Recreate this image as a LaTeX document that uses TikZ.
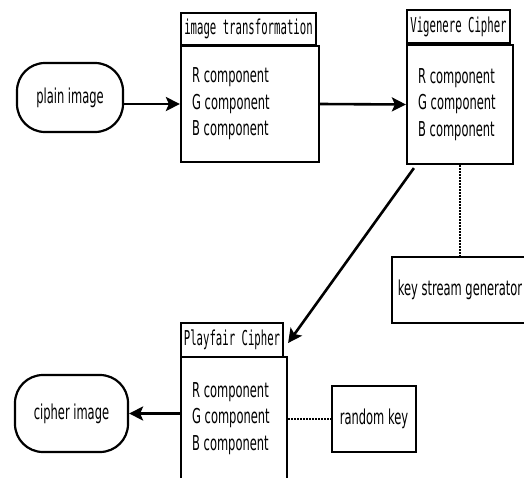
\documentclass[tikz,border=0pt]{standalone}
\usepackage{fontspec}
\setmainfont{DejaVu Sans}
\setmonofont{DejaVu Sans Mono}
\usetikzlibrary{arrows.meta,calc}

% narrow text helpers
\newcommand{\nb}[1]{\scalebox{0.56}[1]{#1}}
\newcommand{\nt}[1]{\scalebox{0.52}[1]{\fontsize{20.5}{24}\selectfont\ttfamily #1}}

\begin{document}
\begin{tikzpicture}[x=1pt,y=-1pt,
  every node/.style={font=\fontsize{20.5}{26.5}\selectfont},
  term/.style={draw,line width=2.2pt,rounded corners=28pt,inner sep=0pt},
  titlebox/.style={draw,line width=2.2pt,inner sep=0pt},
  bodybox/.style={draw,line width=2.2pt,align=left,inner xsep=11pt,inner ysep=0pt},
  plainbox/.style={draw,line width=2.2pt,inner sep=0pt},
  flow/.style={line width=2.6pt,-{Stealth[length=14pt,width=14pt,inset=3pt]}},
  keylink/.style={line width=1.8pt,dash pattern=on 1.6pt off 1.4pt}]
\useasboundingbox (0,0) rectangle (524,477);
\begin{scope}
\clip (0,0) rectangle (524,477);

% input and output terminals
\node[term,minimum width=106pt,minimum height=69pt] (plain) at (70,97.5) {\nb{plain image}};
\node[term,minimum width=113pt,minimum height=77pt] (cipher) at (71.5,413.5) {\nb{cipher image}};

% image transformation stage
\node[titlebox,minimum width=135pt,minimum height=32pt] (t1title) at (248.5,29) {\nt{image transformation}};
\node[bodybox,text width=116pt,minimum height=116pt] (t1body) at (250,104)
  {\nb{R component}\\\nb{G component}\\\nb{B component}};

% Vigenere stage
\node[titlebox,minimum width=103pt,minimum height=33pt] (vtitle) at (458.5,26.5) {\nt{Vigenere Cipher}};
\node[bodybox,text width=84pt,minimum height=119pt] (vbody) at (460,104.5)
  {\nb{R component}\\\nb{G component}\\\nb{B component}};

\node[plainbox,minimum width=136pt,minimum height=66pt] (ksg) at (460,290) {\nb{key stream generator}};

% Playfair stage
\node[titlebox,minimum width=102pt,minimum height=34pt] (ptitle) at (232,340) {\nt{Playfair Cipher}};
\node[bodybox,text width=84pt,minimum height=123pt] (pbody) at (234,418.5)
  {\nb{R component}\\\nb{G component}\\\nb{B component}};

\node[plainbox,minimum width=84pt,minimum height=66pt] (rk) at (374,419) {\nb{random key}};

% connectors
\draw[flow] (plain.east |- t1body.west) -- (t1body.west);
\draw[flow] (t1body.east) -- (vbody.west);
\draw[keylink] (vbody.south) -- (ksg.north);
\draw[flow] ($(vbody.south west)+(8,3)$) -- ($(ptitle.east)+(4,3)$);
\draw[keylink] (pbody.east |- rk.west) -- (rk.west);
\draw[flow] (pbody.west |- cipher.east) -- (cipher.east);
\end{scope}
\end{tikzpicture}
\end{document}
